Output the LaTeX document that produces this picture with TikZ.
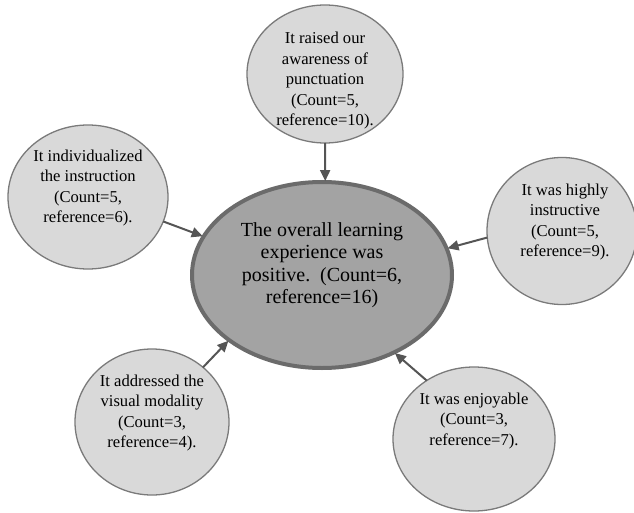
\documentclass[tikz,border=0pt]{standalone}
\usepackage{fontspec}
\setmainfont{Liberation Serif}
\usetikzlibrary{shapes.geometric,arrows.meta}
\definecolor{smallfill}{HTML}{D9D9D9}
\definecolor{smallline}{HTML}{7A7A7A}
\definecolor{mainfill}{HTML}{A3A3A3}
\definecolor{mainline}{HTML}{6B6B6B}
\definecolor{arrowcol}{HTML}{555555}
\begin{document}
\begin{tikzpicture}[x=1pt,y=-1pt,
  smallcirc/.style={ellipse,draw=smallline,fill=smallfill,line width=1.3pt,inner sep=0pt,outer sep=0pt},
  maincirc/.style={ellipse,draw=mainline,fill=mainfill,line width=4pt,inner sep=0pt,outer sep=0pt},
  smalltext/.style={align=center,font=\fontsize{16.6}{20.5}\selectfont,inner sep=0pt},
  maintext/.style={align=center,font=\fontsize{20}{22.5}\selectfont,inner sep=0pt},
  link/.style={draw=arrowcol,line width=2pt,-{Triangle[length=11pt,width=10pt]},shorten >=1pt}
]
\useasboundingbox (0,0) rectangle (634,513);
% main ellipse
\node[maincirc,minimum width=260pt,minimum height=186pt] (main) at (322,275) {};
\node[maintext] (maint) at (322,265) {The overall learning\\experience was\\positive.\ \ (Count=6,\\reference=16)};
% small circles
\node[smallcirc,minimum width=156pt,minimum height=138pt] (top) at (325,74) {};
\node[smalltext] (topt) at (325,81) {It raised our\\awareness of\\punctuation\\(Count=5,\\reference=10).};
\node[smallcirc,minimum width=160pt,minimum height=144pt] (left) at (88,197) {};
\node[smalltext] (leftt) at (88,188) {It individualized\\the instruction\\(Count=5,\\reference=6).};
\node[smallcirc,minimum width=150pt,minimum height=147pt] (right) at (562,231) {};
\node[smalltext] (rightt) at (565,222) {It was highly\\instructive\\(Count=5,\\reference=9).};
\node[smallcirc,minimum width=154pt,minimum height=146pt] (bl) at (152,422) {};
\node[smalltext] (blt) at (152,413) {It addressed the\\visual modality\\(Count=3,\\reference=4).};
\node[smallcirc,minimum width=162pt,minimum height=144pt] (br) at (474,439) {};
\node[smalltext] (brt) at (474,421) {It was enjoyable\\(Count=3,\\reference=7).};
% connectors
\draw[link] (top.270) -- (main.88);
\draw[link] (left.-18) -- (main.162);
\draw[link] (right.185) -- (main.12);
\draw[link] (bl.47) -- (main.215);
\draw[link] (br.129) -- (main.-47);
\end{tikzpicture}
\end{document}
